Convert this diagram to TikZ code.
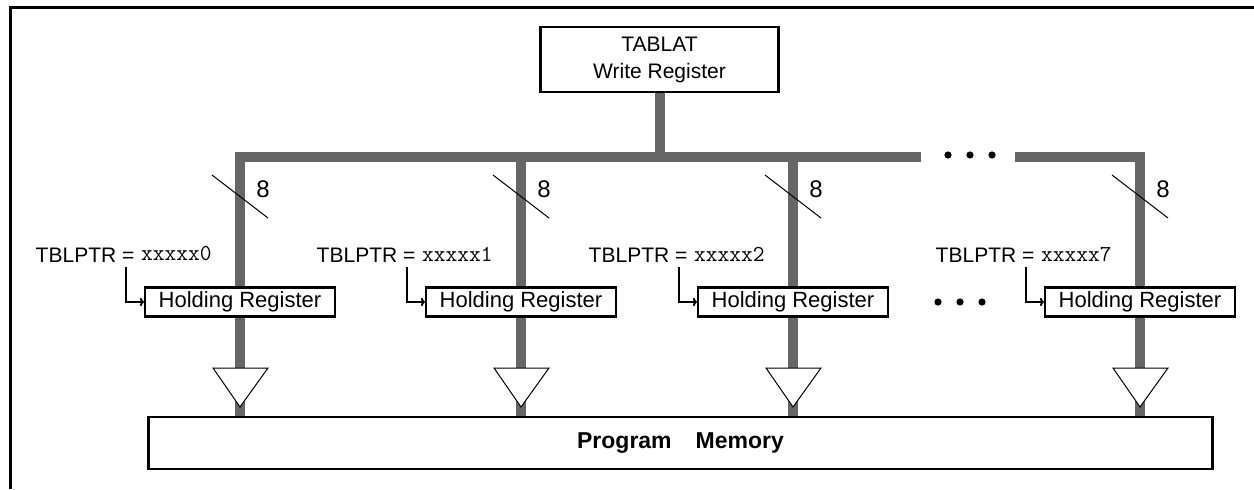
\documentclass[tikz,border=0pt]{standalone}
\usepackage{fontspec}
\setmainfont{Liberation Sans}
\usepackage{xcolor}
\usetikzlibrary{calc, positioning, arrows.meta}
\definecolor{busgrey}{HTML}{666666}

\begin{document}
\begin{tikzpicture}[x=0.5pt, y=-0.5pt, font=\fontsize{10.5}{13.5}\selectfont,
		bus/.style={line width=5pt, busgrey},
		regbox/.style={draw, line width=1.1pt, fill=white, inner sep=1pt},
		ptr/.style={inner sep=0pt}]
			\useasboundingbox (0,0) rectangle (1254,489);
			\def\ybus{157};
			
			% frame
			\draw[line width=1.5pt] (1254,7) -- (10,7) -- (10,489);
			
			\node[regbox, minimum width=119pt, minimum height=32.5pt, align=center] (tablat) at (659.5,59.5) {TABLAT\\Write Register};
			\node[regbox, minimum width=532pt, minimum height=26pt, font=\fontsize{11.5}{13}\selectfont\bfseries] (pm) at (680.5,443) {Program\hspace{12pt}Memory};
			
			\coordinate (bl) at (240,\ybus);
			\coordinate (bm) at (921,\ybus);
			\coordinate (bn) at (1015,\ybus);
			\coordinate (br) at (1140,\ybus);
			
			\draw[bus] (tablat.south) -- (tablat.south |- bl);
			\draw[bus] (bl |- pm.north) -- (bl) -- (bm);
			\draw[bus] (bn) -- (br) -- (br |- pm.north);
			\foreach \x in {521, 793}
				\draw[bus] (\x,\ybus) -- (\x,\ybus |- pm.north);
			
			\foreach \d in {948, 970, 992}
				\fill (\d,155) circle [radius=1.8pt];
			\foreach \d in {938, 960, 982}
				\fill (\d,302) circle [radius=1.8pt];
			
			\foreach \x/\n in {240/0, 521/1, 793/2, 1140/7} {
				\draw[line width=0.5pt] (\x-28,175) -- (\x+28,218);
				\node[font=\fontsize{12}{13}\selectfont] (w\n) at (\x+23,189) {8};
				\node[regbox, minimum width=95pt, minimum height=14.5pt, font=\fontsize{11}{13}\selectfont] (hr\n) at (\x,302) {Holding Register};
				\node[ptr, anchor=east, font=\fontsize{11.4}{13}\ttfamily] (tv\n) at (\x-28,254) {xxxxx\n};
				\node[ptr, left=3pt of tv\n.west, anchor=east, yshift=-0.5pt] (tp\n) {TBLPTR =};
				\draw[line width=1pt, -{To[length=2pt]}] ([xshift=-4.5pt, yshift=-2pt]tp\n.south east) |- (hr\n.west);
				\filldraw[fill=white, line width=0.5pt] (\x-27,368) -- (\x+28,368) -- (\x,407) -- cycle;
			}
		\end{tikzpicture}
\end{document}
